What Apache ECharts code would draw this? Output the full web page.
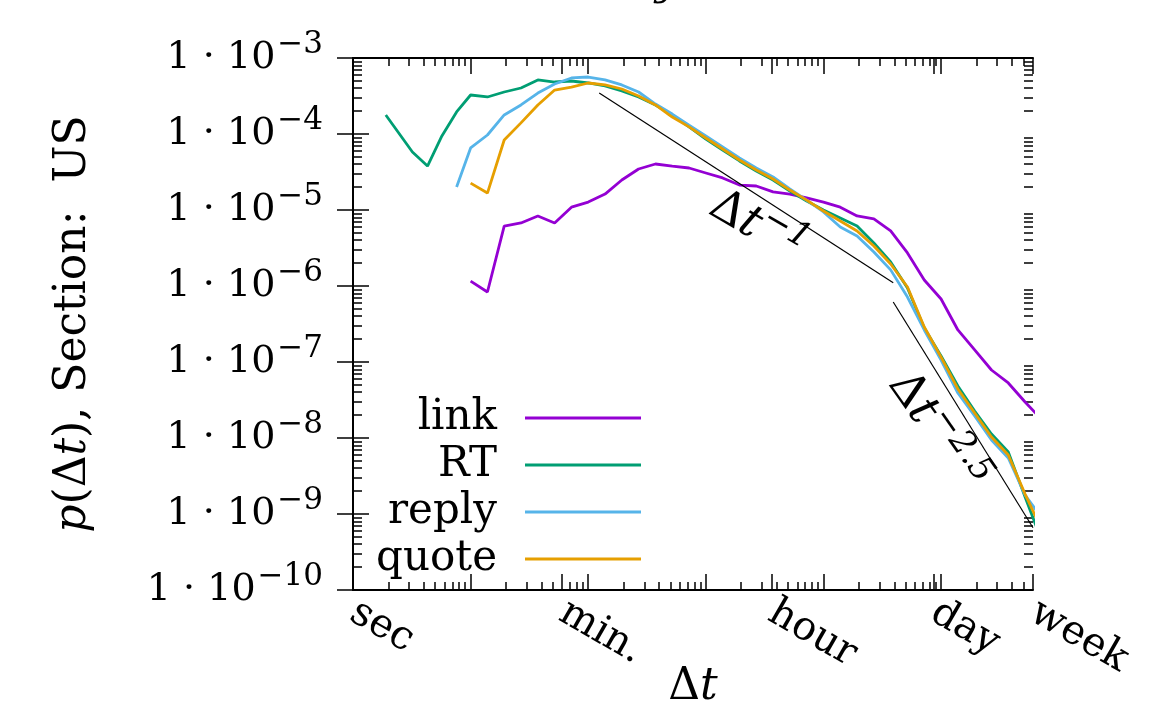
<!DOCTYPE html>
<html>
<head>
<meta charset="utf-8">
<script src="https://cdn.jsdelivr.net/npm/echarts@6/dist/echarts.min.js"></script>
<style>
  html, body { margin: 0; background: #fff; }
  #main { width: 1173px; height: 706px; }
</style>
</head>
<body>
<div id="main"></div>
<script>
// bin centres of the inter-event time, seconds
const dtSec = [1.9, 3.2, 4.3, 5.7, 7.6, 10, 13.9, 19.3, 26.8, 37.3, 51.8, 72, 100, 139, 193, 268, 373, 518, 720,
  1000, 1389, 1931, 2683, 3728, 5179, 7197, 10000, 13895, 19307, 26827, 37276, 51795, 71969,
  100000, 138950, 193070, 268270, 372760, 517950, 719690];

const linkP = [null, null, null, null, null, 1.16e-6, 8.34e-7, 6.15e-6, 6.75e-6, 8.34e-6, 6.75e-6, 1.09e-5,
  1.27e-5, 1.62e-5, 2.48e-5, 3.46e-5, 4.03e-5, 3.79e-5, 3.57e-5, 3.07e-5, 2.64e-5, 2.13e-5, 2.07e-5,
  1.73e-5, 1.62e-5, 1.44e-5, 1.27e-5, 1.09e-5, 8.34e-6, 7.62e-6, 5.30e-6, 2.72e-6, 1.20e-6, 6.75e-7,
  2.64e-7, 1.44e-7, 7.85e-8, 5.30e-8, 2.98e-8, 1.73e-8];
const rtP = [1.78e-4, 5.79e-5, 3.79e-5, 9.42e-5, 1.95e-4, 3.26e-4, 3.07e-4, 3.57e-4, 4.03e-4, 5.14e-4,
  4.83e-4, 4.98e-4, 4.69e-4, 4.29e-4, 3.68e-4, 3.07e-4, 2.41e-4, 1.78e-4, 1.24e-4, 8.59e-5, 6.15e-5,
  4.42e-5, 3.26e-5, 2.48e-5, 1.78e-5, 1.31e-5, 1.00e-5, 7.85e-6, 6.15e-6, 3.68e-6, 2.07e-6, 9.42e-7,
  2.80e-7, 1.20e-7, 4.83e-8, 2.26e-8, 1.13e-8, 6.55e-9, 1.67e-9, 4.42e-10];
const replyP = [null, null, null, null, 2.01e-5, 6.55e-5, 9.70e-5, 1.78e-4, 2.41e-4, 3.46e-4, 4.55e-4,
  5.46e-4, 5.62e-4, 5.14e-4, 4.42e-4, 3.57e-4, 2.48e-4, 1.83e-4, 1.31e-4, 9.42e-5, 6.75e-5, 4.83e-5,
  3.57e-5, 2.72e-5, 1.89e-5, 1.35e-5, 9.42e-6, 5.97e-6, 4.55e-6, 2.80e-6, 1.63e-6, 7.16e-7, 2.64e-7,
  1.06e-7, 3.91e-8, 1.95e-8, 9.42e-9, 5.46e-9, 1.78e-9, 8.85e-10];
const quoteP = [null, null, null, null, null, 2.26e-5, 1.67e-5, 8.34e-5, 1.40e-4, 2.41e-4, 3.79e-4,
  4.15e-4, 4.69e-4, 4.42e-4, 3.91e-4, 3.16e-4, 2.41e-4, 1.67e-4, 1.24e-4, 8.85e-5, 6.35e-5, 4.55e-5,
  3.36e-5, 2.56e-5, 1.83e-5, 1.35e-5, 9.70e-6, 7.16e-6, 5.30e-6, 3.36e-6, 1.95e-6, 9.70e-7, 2.89e-7,
  1.16e-7, 4.42e-8, 2.13e-8, 1.03e-8, 5.97e-9, 1.83e-9, 6.15e-10];

// power-law guides
const guide1Sec = [124, 39200];
const guide1P = [3.47e-4, 1.10e-6];
const guide2Sec = [39200, 604800];
const guide2P = [6.16e-7, 6.6e-10];

// x tick labels
const tickSec = [1, 60, 3600, 86400, 604800];
const tickNames = ['sec', 'min.', 'hour', 'day', 'week'];
const yDecades = [-10, -9, -8, -7, -6, -5, -4, -3];

const FONT = 'DejaVu Serif';
const chart = echarts.init(document.getElementById('main'));

function pairs(xs, ys) {
  const out = [];
  for (let i = 0; i < xs.length; i++) {
    if (ys[i] != null) out.push([xs[i], ys[i]]);
  }
  return out;
}

const LX = Math.log10(604800);
const majorX = [0, 1, 2, 3, 4, 5].concat(tickSec.map(Math.log10));
const minorX = [];
for (let d = 0; d <= 5; d++) {
  for (let m = 2; m <= 9; m++) {
    const v = d + Math.log10(m);
    if (v < LX) minorX.push(v);
  }
}
const minorY = [];
for (let d = -10; d < -3; d++) {
  for (let m = 2; m <= 9; m++) minorY.push(d + Math.log10(m));
}

const black = { color: '#000', width: 1.5 };
function tickAxis(pos, min, max, ticks, len, opts) {
  return Object.assign({
    type: 'value', position: pos, min: min, max: max,
    axisLine: { show: false },
    axisTick: { show: true, inside: true, length: len, customValues: ticks, lineStyle: black },
    axisLabel: { show: false },
    splitLine: { show: false }
  }, opts || {});
}
const frameLine = { show: true, lineStyle: { color: '#000', width: 2 } };

const option = {
  animation: false,
  backgroundColor: '#fff',
  title: {
    text: '{i|y}', left: 650, top: -40,
    textStyle: { rich: { i: { fontFamily: FONT, fontStyle: 'italic', fontWeight: 'normal', fontSize: 40, color: '#000' } } }
  },
  grid: { left: 353, right: 140, top: 58, bottom: 116, outerBoundsMode: 'none', containLabel: false },
  legend: {
    data: ['link', 'RT', 'reply', 'quote'],
    orient: 'vertical', align: 'right', right: 532, top: 397, padding: 0,
    icon: 'rect', itemWidth: 116, itemHeight: 3, itemGap: 5, selectedMode: false,
    textStyle: { fontFamily: FONT, fontSize: 42, color: '#000', lineHeight: 40, padding: [0, 23, 0, 0] }
  },
  xAxis: [
    { type: 'log', logBase: 10, min: 1, max: 604800, show: false },
    tickAxis('bottom', 0, LX, majorX, 16, {
      axisLine: frameLine,
      axisLabel: {
        show: true, customValues: tickSec.map(Math.log10), rotate: -30, margin: 20,
        fontFamily: FONT, fontSize: 40, color: '#000',
        formatter: function (v) {
          for (let i = 0; i < tickSec.length; i++) {
            if (Math.abs(Math.log10(tickSec[i]) - v) < 1e-6) return tickNames[i];
          }
          return '';
        }
      },
      name: 'Δ{i|t}', nameLocation: 'middle', nameGap: 76, nameMoveOverlap: false,
      nameTextStyle: {
        fontFamily: FONT, fontSize: 44, color: '#000',
        rich: { i: { fontFamily: FONT, fontStyle: 'italic', fontSize: 44, color: '#000' } }
      }
    }),
    tickAxis('bottom', 0, LX, minorX, 8),
    tickAxis('top', 0, LX, majorX, 16, { axisLine: frameLine }),
    tickAxis('top', 0, LX, minorX, 8)
  ],
  yAxis: [
    { type: 'log', logBase: 10, min: 1e-10, max: 1e-3, show: false },
    tickAxis('left', -10, -3, yDecades, 16, {
      axisLine: frameLine,
      axisLabel: {
        show: true, customValues: yDecades, margin: 30,
        formatter: function (v) { return '{a|1 · 10}{b|−' + Math.round(-v) + '}'; },
        rich: {
          a: { fontFamily: FONT, fontSize: 38, color: '#000', lineHeight: 58 },
          b: { fontFamily: FONT, fontSize: 31, color: '#000', verticalAlign: 'top', lineHeight: 29, padding: [0, 0, 0, 2] }
        }
      },
      name: '{i|p}(Δ{i|t}), Section:  US', nameLocation: 'middle', nameGap: 257, nameRotate: 90,
      nameMoveOverlap: false,
      nameTextStyle: {
        fontFamily: FONT, fontSize: 44, color: '#000',
        rich: { i: { fontFamily: FONT, fontStyle: 'italic', fontSize: 44, color: '#000' } }
      }
    }),
    tickAxis('left', -10, -3, minorY, 9),
    tickAxis('right', -10, -3, yDecades, 16, { axisLine: frameLine }),
    tickAxis('right', -10, -3, minorY, 9)
  ],
  series: [
    { name: 'link', color: '#9400D3', data: pairs(dtSec, linkP) },
    { name: 'RT', color: '#009E73', data: pairs(dtSec, rtP) },
    { name: 'reply', color: '#56B4E9', data: pairs(dtSec, replyP) },
    { name: 'quote', color: '#E69F00', data: pairs(dtSec, quoteP) }
  ].map(function (s) {
    return {
      name: s.name, type: 'line', xAxisIndex: 0, yAxisIndex: 0, data: s.data,
      showSymbol: false, clip: true, itemStyle: { color: s.color },
      lineStyle: { color: s.color, width: 2.8 }
    };
  }).concat([
    { type: 'line', name: 'g1', xAxisIndex: 0, yAxisIndex: 0, silent: true, showSymbol: false,
      data: pairs(guide1Sec, guide1P), lineStyle: { color: '#000', width: 1.2 } },
    { type: 'line', name: 'g2', xAxisIndex: 0, yAxisIndex: 0, silent: true, showSymbol: false, clip: true,
      data: pairs(guide2Sec, guide2P), lineStyle: { color: '#000', width: 1.2 } }
  ])
};
chart.setOption(option);

// guide labels, anchored in data space
const p1 = chart.convertToPixel({ seriesIndex: 0 }, [2724, 5.8e-6]);
const p2 = chart.convertToPixel({ seriesIndex: 0 }, [90600, 1.2e-8]);
function guideLabel(pt, exp, deg) {
  return {
    type: 'text', x: pt[0], y: pt[1], rotation: deg * Math.PI / 180, z: 10,
    style: {
      text: 'Δ{t|t}{s|−' + exp + '}', fontFamily: FONT, fontSize: 46, fill: '#000',
      align: 'center', verticalAlign: 'middle', lineHeight: 62,
      rich: {
        t: { fontFamily: FONT, fontStyle: 'italic', fontSize: 46, lineHeight: 62 },
        s: { fontFamily: FONT, fontStyle: 'italic', fontSize: 34, verticalAlign: 'top', lineHeight: 34 }
      }
    }
  };
}
chart.setOption({ graphic: [guideLabel(p1, '1', -30), guideLabel(p2, '2.5', -55)] });
</script>
</body>
</html>
